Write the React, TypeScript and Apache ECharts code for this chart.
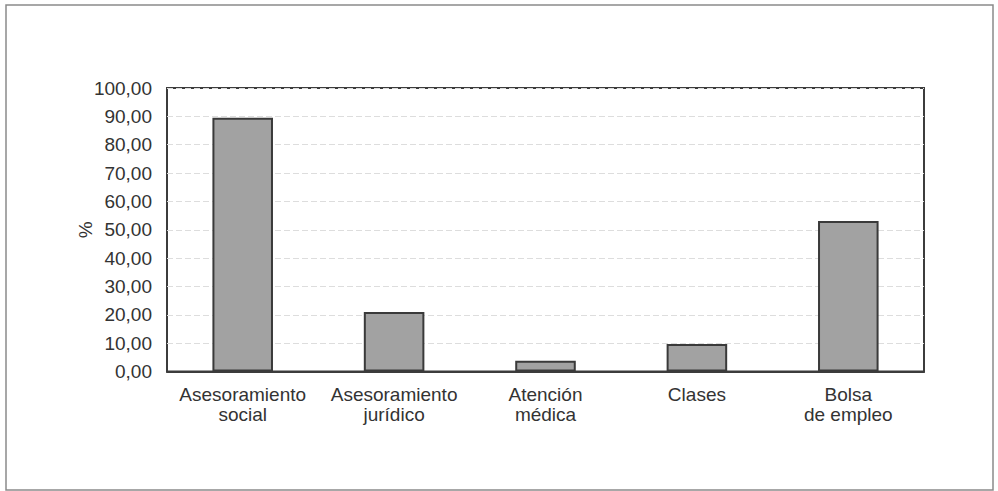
import React, { useEffect, useRef } from "react";
import * as echarts from "echarts";

const categories = [
  "Asesoramiento\nsocial",
  "Asesoramiento\njurídico",
  "Atención\nmédica",
  "Clases",
  "Bolsa\nde empleo",
];
const percentages = [89.5, 21.0, 3.8, 9.7, 53.1];
const axisName = "%";

const FONT = "'Liberation Sans', Arial, Helvetica, sans-serif";

export default function App() {
  const ref = useRef<HTMLDivElement>(null);

  useEffect(() => {
    if (!ref.current) return;
    const chart = echarts.init(ref.current, undefined, { renderer: "svg" });
    chart.setOption({
      animation: false,
      backgroundColor: "#ffffff",
      graphic: [
        {
          type: "rect",
          shape: { x: 6, y: 5, width: 987, height: 485 },
          style: { fill: "none", stroke: "#8a8a8a", lineWidth: 1.5 },
          silent: true,
        },
      ],
      grid: {
        left: 167,
        right: 74,
        top: 88,
        bottom: 119.5,
        show: true,
        borderColor: "#3c3c3c",
        borderWidth: 2,
        backgroundColor: "transparent",
      },
      xAxis: {
        type: "category",
        data: categories,
        axisTick: { show: false },
        axisLine: { show: true, lineStyle: { color: "#3c3c3c", width: 2 } },
        axisLabel: {
          color: "#333",
          fontFamily: FONT,
          fontSize: 19,
          lineHeight: 20,
          margin: 13,
          interval: 0,
        },
        splitLine: { show: false },
      },
      yAxis: {
        type: "value",
        min: 0,
        max: 100,
        interval: 10,
        name: axisName,
        nameLocation: "middle",
        nameGap: 72,
        nameRotate: 90,
        nameMoveOverlap: false,
        nameTextStyle: { color: "#333", fontFamily: FONT, fontSize: 19 },
        axisTick: { show: false },
        axisLine: { show: false },
        axisLabel: {
          color: "#333",
          fontFamily: FONT,
          fontSize: 19,
          margin: 15,
          formatter: (v: number) => v.toFixed(2).replace(".", ","),
        },
        splitLine: {
          show: true,
          lineStyle: { color: "#dddddd", width: 1, type: [6, 3] },
        },
      },
      series: [
        {
          type: "bar",
          data: percentages,
          barWidth: "40%",
          itemStyle: {
            color: "#a2a2a2",
            borderColor: "#3a3a3a",
            borderWidth: 2,
          },
        },
      ],
    });
    return () => chart.dispose();
  }, []);

  return (
    <div
      ref={ref}
      style={{ position: "fixed", left: 0, top: 0, width: 998, height: 491 }}
    />
  );
}
